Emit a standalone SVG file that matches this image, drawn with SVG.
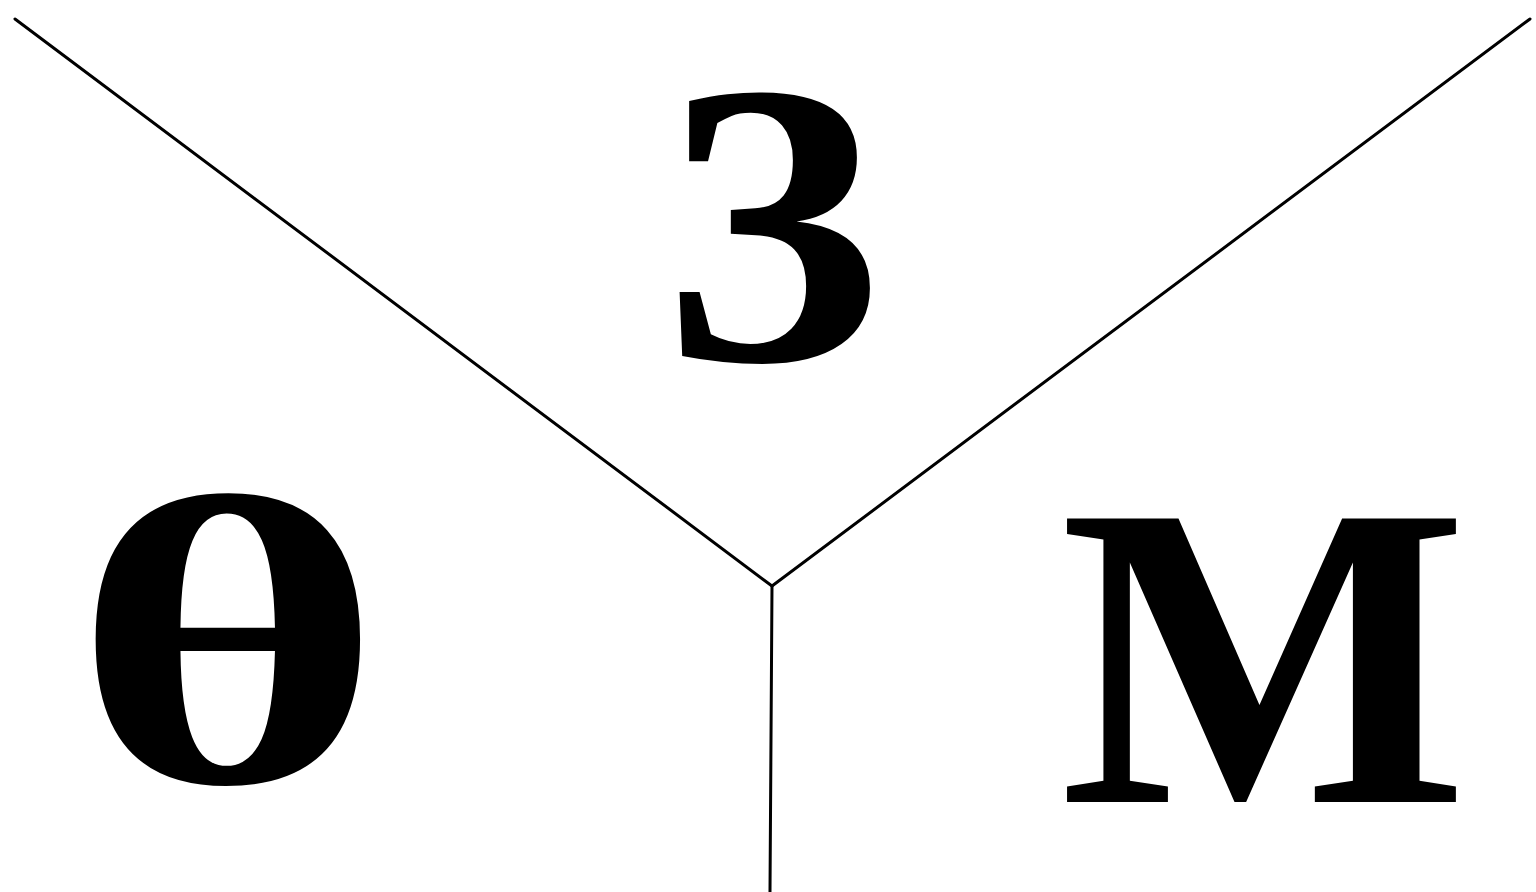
<svg xmlns="http://www.w3.org/2000/svg" width="1536" height="892" viewBox="0 0 1536 892">
<style>
.lbl{font-family:'Liberation Serif','Times New Roman',serif;font-weight:700;fill:#000}
.ln{stroke:#000;stroke-width:3;fill:none;stroke-linecap:round;stroke-linejoin:round}
</style>
<rect width="1536" height="892" fill="#fff"/>
<g id="connectors">
<path class="ln" d="M15 19 L772 586 L1530 19"/>
<path class="ln" d="M772 586 L770 892"/>
</g>
<g id="node-3"><text class="lbl" transform="translate(774 360) scale(1.1 1)" x="0" y="0" font-size="404" text-anchor="middle">3</text></g>
<g id="node-theta"><text class="lbl" transform="translate(228 782) scale(1.46 1)" x="0" y="0" font-size="413" text-anchor="middle">θ</text></g>
<g id="node-M"><text class="lbl" x="1264" y="802" font-size="433" text-anchor="middle">M</text></g>
</svg>
